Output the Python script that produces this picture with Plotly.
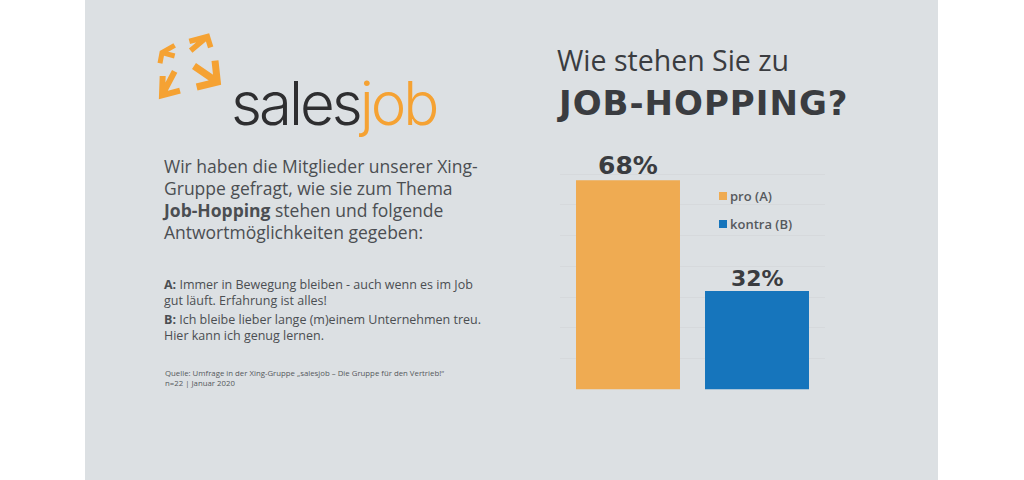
import plotly.graph_objects as go

categories = ["pro (A)", "kontra (B)"]
values = [68, 32]
labels = ["68%", "32%"]
label_sizes = [25, 22]
colors = ["#EFAB52", "#1675BC"]

W, H = 1024, 480
BG = "#DCE0E3"
TXT = "#4B4E52"
DARK = "#3A3C40"

def px(x): return x / W
def py(y): return 1 - y / H

fig = go.Figure()
for c, v, col in zip(categories, values, colors):
    fig.add_trace(go.Bar(x=[c], y=[v], name=c, showlegend=False,
                         marker=dict(color=col, line=dict(width=0)), width=0.806))

shapes = [dict(type="rect", xref="paper", yref="paper", x0=px(85), x1=px(938), y0=0, y1=1,
               fillcolor=BG, line_width=0, layer="below")]

def chevron(shaft, wing1, tip, wing2, w):
    def P(p):
        return f"{px(p[0]/3+140):.5f} {py(p[1]/3+20):.5f}"
    d = f"M{P(wing1)} L{P(tip)} L{P(wing2)} M{P(shaft)} L{P(tip)}"
    return dict(type="path", xref="paper", yref="paper", path=d, line=dict(color="#F5A233", width=w),
                fillcolor="rgba(0,0,0,0)", layer="above")

shapes += [
    chevron((162, 138), (225, 122), (232, 186), (170, 201), 7),
    chevron((152, 92), (148, 64), (202, 50), (212, 82), 5.5),
    chevron((104, 108), (104, 76), (66, 98), (60, 130), 5),
    chevron((104, 154), (68, 168), (66, 226), (120, 212), 6),
]

def note(x, y, text, size, color=TXT, family="Open Sans", **kw):
    return dict(xref="paper", yref="paper", x=px(x), y=py(y), text=text, showarrow=False, xanchor="left",
                yanchor="middle", align="left", font=dict(family=family, size=size, color=color, **kw))

annotations = [
    note(229, 103, "<span style='color:#2E2E30;letter-spacing:-3px'>sales</span>"
                   "<span style='color:#F5A233;letter-spacing:-3px'>job</span>", 60, family="Inter", weight=300),
    note(555, 60, "Wie stehen Sie zu", 28.5, color=DARK, weight=400),
    note(555, 103, "<span style='letter-spacing:1px'>JOB-HOPPING?</span>", 34, color=DARK, family="DejaVu Sans", weight=700),
]
for x, y, line in zip([162, 162, 160, 162], [166, 188, 210, 232],
                      ["Wir haben die Mitglieder unserer Xing-", "Gruppe gefragt, wie sie zum Thema",
                       "<b>Job-Hopping</b> stehen und folgende", "Antwortmöglichkeiten gegeben:"]):
    annotations.append(note(x, y, line, 17.5))
annotations.append(note(162, 292.25, "<b>A:</b> Immer in Bewegung bleiben - auch wenn es im Job<br>"
                                     "gut läuft. Erfahrung ist alles!", 12.5))
annotations.append(note(162, 327.25, "<b>B:</b> Ich bleibe lieber lange (m)einem Unternehmen treu.<br>"
                                     "Hier kann ich genug lernen.", 12.5))
for y, line in zip([373, 382.5], ["Quelle: Umfrage in der Xing-Gruppe „salesjob – Die Gruppe für den Vertrieb!“",
                                  "n=22 | Januar 2020"]):
    annotations.append(note(163, y, line, 7.8, color="#55585C"))

# data labels, placed from the values through the axes
for c, v, l, s in zip(categories, values, labels, label_sizes):
    annotations.append(dict(xref="x", yref="y", x=c, y=v, text=l, showarrow=False, yanchor="bottom", yshift=-2,
                            font=dict(family="DejaVu Sans", size=s, color=DARK, weight=700)))

# legend
for y, c, col in zip([196, 224], categories, colors):
    shapes.append(dict(type="rect", xref="paper", yref="paper", x0=px(719), x1=px(727), y0=py(y + 4), y1=py(y - 4),
                       fillcolor=col, line_width=0))
    annotations.append(note(728, y, c, 13, color="#56595D", weight=600))

fig.update_layout(
    width=W, height=H, margin=dict(l=0, r=0, t=0, b=0), autosize=False,
    paper_bgcolor="white", plot_bgcolor=BG, barmode="overlay", shapes=shapes, annotations=annotations,
    showlegend=False,
    xaxis=dict(domain=[px(560), px(825)], range=[-0.527, 1.527], type="category",
               categoryorder="array", categoryarray=categories, showticklabels=False, showgrid=False,
               zeroline=False, ticks="", showline=False),
    yaxis=dict(domain=[py(389.5), py(142.5)], range=[0, 80.3], dtick=10, showticklabels=False,
               gridcolor="#D6D9DC", gridwidth=1, zeroline=False, ticks="", showline=False),
)

fig.write_html("out.html", post_script="document.body.style.margin='0';", config={"displayModeBar": False})
